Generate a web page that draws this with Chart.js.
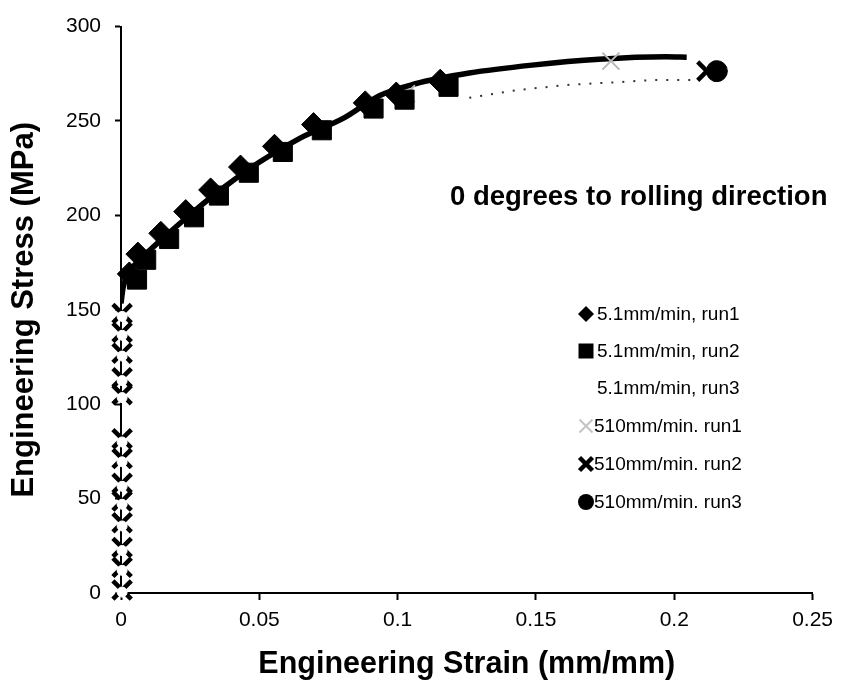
<!DOCTYPE html>
<html>
<head>
<meta charset="utf-8">
<script src="https://cdn.jsdelivr.net/npm/chart.js@4"></script>
<style>
  body { margin: 0; background: #fff; }
  canvas { display: block; }
</style>
</head>
<body>
<canvas id="chart" width="841" height="694"></canvas>
<script>
// axis ticks
const xTicks = [0, 0.05, 0.1, 0.15, 0.2, 0.25];
const yTicks = [0, 50, 100, 150, 200, 250, 300];

// 5.1mm/min, run1 (diamonds)
const slow1Strain = [0.0030, 0.0061, 0.0144, 0.0234, 0.0324, 0.0432, 0.0555, 0.0696, 0.0883, 0.0995, 0.1154];
const slow1Stress = [169, 179.5, 190.5, 202, 213.5, 225.6, 236.6, 248.1, 259.6, 264.3, 271.1];

// 5.1mm/min, run2 (squares)
const slow2Strain = [0.0058, 0.0091, 0.0174, 0.0264, 0.0354, 0.0462, 0.0585, 0.0726, 0.0913, 0.1025, 0.1184];
const slow2Stress = [166, 176.5, 187.5, 199, 210.5, 222.6, 233.6, 245.1, 256.6, 261.3, 268.1];

// 5.1mm/min, run3 (white markers, sparse dots at the end)
const slow3Strain = [0.0004, 0.0004, 0.0004, 0.0004, 0.0004, 0.0004, 0.0004, 0.0004, 0.0004, 0.0004, 0.0004, 0.0004, 0.0004];
const slow3Stress = [0.5, 12, 22.5, 35.5, 47, 56.5, 69.5, 80, 103.5, 112.5, 125.5, 136.5, 146.5];
const tailStrain = [0.1259, 0.1439, 0.1613, 0.1811, 0.1923, 0.2064];
const tailStress = [262.3, 266.5, 269.1, 270.7, 271.7, 271.7];

// 510mm/min, run1 (grey crosses)
const fast1Strain = [0.1032, 0.1771];
const fast1Stress = [264.4, 281.7];

// 510mm/min, run2 (black crosses)
const fast2Strain = [0.0004, 0.0004, 0.0004, 0.0004, 0.0004, 0.0004, 0.0004, 0.0004, 0.0004, 0.0004, 0.0004, 0.0004, 0.0004, 0.2118];
const fast2Stress = [1.6, 13.6, 24.1, 37.2, 48.7, 58.1, 71.2, 81.7, 105, 114, 127, 138, 148, 276.4];

// 510mm/min, run3 (circles)
const fast3Strain = [0.2154];
const fast3Stress = [276.4];

// dense trace drawn as the thick curve
const curveStrain = [0, 0.0007, 0.0025, 0.0061, 0.0105, 0.0177, 0.0267, 0.0375, 0.0501, 0.0646, 0.0808, 0.0934, 0.1061, 0.1259, 0.1486, 0.1728, 0.197, 0.2045];
const curveStress = [153.4, 161.3, 169.1, 175.4, 181.7, 191.1, 202.6, 215.2, 228.3, 240.8, 251.8, 263.4, 269.6, 275.4, 279.6, 282.7, 284, 283.8];

const legendItems = ["5.1mm/min, run1", "5.1mm/min, run2", "5.1mm/min, run3", "510mm/min. run1", "510mm/min. run2", "510mm/min. run3"];
const noteText = "0 degrees to rolling direction";

function pts(xs, ys) {
  return xs.map((x, i) => ({ x: x, y: ys[i] }));
}

function drawMark(ctx, kind, x, y) {
  ctx.save();
  if (kind === "diamond") {
    ctx.fillStyle = "#000";
    ctx.beginPath();
    ctx.moveTo(x, y - 8); ctx.lineTo(x + 8, y); ctx.lineTo(x, y + 8); ctx.lineTo(x - 8, y);
    ctx.closePath(); ctx.fill();
  } else if (kind === "square") {
    ctx.fillStyle = "#000";
    ctx.fillRect(x - 7.5, y - 7.5, 15, 15);
  } else if (kind === "greyx" || kind === "x") {
    ctx.strokeStyle = kind === "x" ? "#000" : "#c4c4c4";
    ctx.lineWidth = kind === "x" ? 4.5 : 2;
    ctx.beginPath();
    ctx.moveTo(x - 6.5, y - 6.5); ctx.lineTo(x + 6.5, y + 6.5);
    ctx.moveTo(x + 6.5, y - 6.5); ctx.lineTo(x - 6.5, y + 6.5);
    ctx.stroke();
  } else if (kind === "circle") {
    ctx.fillStyle = "#000";
    ctx.beginPath(); ctx.arc(x, y, 8, 0, Math.PI * 2); ctx.fill();
  }
  ctx.restore();
}

const legendPlugin = {
  id: "insideLegend",
  afterDraw(chart) {
    const ctx = chart.ctx;
    const marks = ["diamond", "square", "none", "greyx", "x", "circle"];
    const rowsY = [314, 351, 388, 426, 464, 502];
    ctx.save();
    ctx.font = "19px 'Liberation Sans', Arial, sans-serif";
    ctx.fillStyle = "#000";
    ctx.textBaseline = "middle";
    legendItems.forEach((t, i) => {
      drawMark(ctx, marks[i], 586, rowsY[i]);
      ctx.fillText(t, i < 3 ? 597 : 594, rowsY[i] + 1);
    });
    ctx.font = "bold 27.5px 'Liberation Sans', Arial, sans-serif";
    ctx.fillText(noteText, 450, 197);
    ctx.restore();
  }
};

const ctx = document.getElementById("chart").getContext("2d");
new Chart(ctx, {
  type: "scatter",
  data: {
    datasets: [
      {
        label: "5.1mm/min, run1",
        data: pts(slow1Strain, slow1Stress),
        pointStyle: "rectRot",
        pointRadius: 12,
        backgroundColor: "#000",
        borderColor: "#000",
        clip: false,
        order: 0
      },
      {
        label: "5.1mm/min, run2",
        data: pts(slow2Strain, slow2Stress),
        pointStyle: "rect",
        pointRadius: 13.5,
        backgroundColor: "#000",
        borderColor: "#000",
        clip: false,
        order: 1
      },
      {
        label: "510mm/min. run3",
        data: pts(fast3Strain, fast3Stress),
        pointStyle: "circle",
        pointRadius: 10.5,
        backgroundColor: "#000",
        borderColor: "#000",
        order: 1
      },
      {
        label: "510mm/min. run1",
        data: pts(fast1Strain, fast1Stress),
        pointStyle: "crossRot",
        pointRadius: 12,
        borderWidth: 2,
        borderColor: "#b8b8b8",
        order: 2
      },
      {
        label: "trace",
        data: pts(curveStrain, curveStress),
        showLine: true,
        pointRadius: 0,
        borderWidth: 5.5,
        borderColor: "#000",
        cubicInterpolationMode: "monotone",
        order: 3
      },
      {
        label: "tail",
        data: pts(tailStrain, tailStress),
        showLine: true,
        pointRadius: 0,
        borderWidth: 2,
        borderDash: [2, 9],
        borderColor: "#333",
        order: 3
      },
      {
        label: "5.1mm/min, run3",
        data: pts(slow3Strain, slow3Stress),
        pointStyle: "circle",
        pointRadius: 5,
        backgroundColor: "#fff",
        borderColor: "#fff",
        clip: false,
        order: 4
      },
      {
        label: "510mm/min. run2",
        data: pts(fast2Strain, fast2Stress),
        pointStyle: "crossRot",
        pointRadius: 13,
        borderWidth: 4.5,
        borderColor: "#000",
        clip: false,
        order: 5
      }
    ]
  },
  options: {
    responsive: false,
    animation: false,
    devicePixelRatio: 1,
    layout: { padding: { top: 20, right: 27, left: 0, bottom: 0 } },
    plugins: {
      legend: { display: false },
      tooltip: { enabled: false }
    },
    scales: {
      x: {
        type: "linear",
        min: 0,
        max: 0.25,
        afterBuildTicks: (s) => { s.ticks = xTicks.map(v => ({ value: v })); },
        afterFit: (s) => { s.height = 101; },
        ticks: {
          color: "#000",
          padding: 8,
          font: { family: "'Liberation Sans', Arial, sans-serif", size: 21 },
          callback: (v) => String(v)
        },
        grid: { drawOnChartArea: false, tickLength: 7, tickWidth: 2, tickColor: "#000" },
        border: { display: true, color: "#000", width: 2 },
        title: {
          display: true,
          text: "Engineering Strain (mm/mm)",
          color: "#000",
          font: { family: "'Liberation Sans', Arial, sans-serif", size: 30.5, weight: "bold", lineHeight: 1 },
          padding: { top: 0, bottom: 14 }
        }
      },
      y: {
        type: "linear",
        min: 0,
        max: 300,
        afterBuildTicks: (s) => { s.ticks = yTicks.map(v => ({ value: v })); },
        afterFit: (s) => { s.width = 121; },
        ticks: {
          color: "#000",
          padding: 14,
          font: { family: "'Liberation Sans', Arial, sans-serif", size: 21 },
          callback: (v) => String(v)
        },
        grid: { drawOnChartArea: false, tickLength: 6, tickWidth: 2, tickColor: "#000" },
        border: { display: true, color: "#000", width: 2 },
        title: {
          display: true,
          text: "Engineering Stress (MPa)",
          color: "#000",
          font: { family: "'Liberation Sans', Arial, sans-serif", size: 31, weight: "bold", lineHeight: 1 },
          padding: { top: 9, bottom: 0 }
        }
      }
    }
  },
  plugins: [legendPlugin]
});
</script>
</body>
</html>
